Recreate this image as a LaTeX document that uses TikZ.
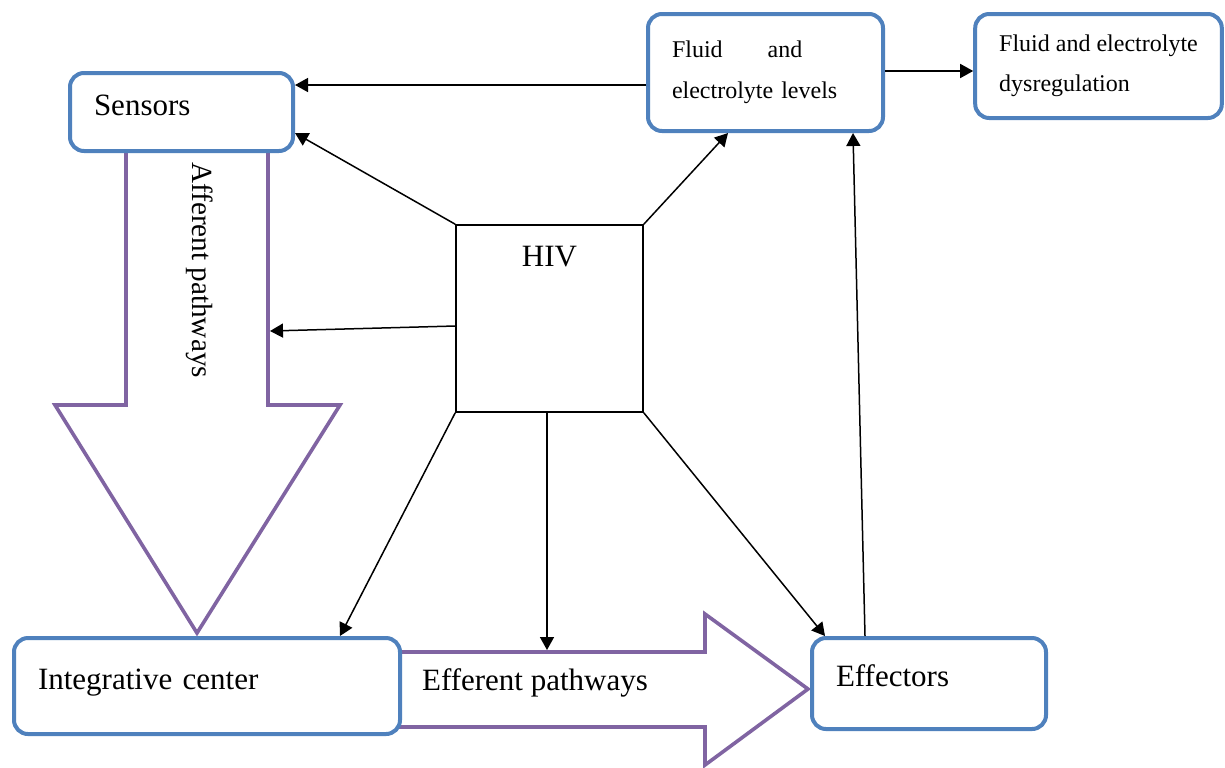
\documentclass[tikz,border=0pt]{standalone}
\usepackage{fontspec}
\setmainfont{Liberation Serif}
\usetikzlibrary{arrows.meta}
\definecolor{boxblue}{HTML}{4F81BD}
\definecolor{pathpurple}{HTML}{8064A2}

\begin{document}
\begin{tikzpicture}[x=0.5pt,y=-0.5pt]
      \useasboundingbox (0,0) rectangle (1225,767);

      % broad pathway arrows
      \begin{scope}[draw=pathpurple, fill=white, line width=1.8pt]
        \filldraw (126,140) -- (126,405) -- (55,405) -- (197,633) -- (340,405) -- (268,405) -- (268,140) -- cycle;
        \filldraw (390,652) -- (705,652) -- (705,614) -- (808,689) -- (705,765) -- (705,727) -- (390,727) -- cycle;
      \end{scope}

      \node[rotate=-90, font=\fontsize{14.6}{18}\selectfont] (afferent) at (200,270) {Afferent pathways};
      \node[font=\fontsize{15.5}{18}\selectfont] (efferent) at (535,683) {Efferent pathways};
      \coordinate (shaftR) at (270,331);
      \coordinate (shaftT) at (547,650);

      \begin{scope}[every node/.style={draw=boxblue, line width=2pt, rounded corners=7pt, fill=white,
          inner xsep=12pt, align=left, font=\fontsize{15.5}{18}\selectfont}]
        \node[text width=87.5pt, minimum height=39pt, text height=11pt, text depth=8pt] (sensors) at (181.5,112) {Sensors};
        \node[text width=169pt, minimum height=48pt, text height=11pt, text depth=8pt] (integ) at (207,686) {Integrative center};
        \node[text width=93pt, minimum height=45.5pt, text height=11pt, text depth=8pt] (effectors) at (929,683.5) {Effectors};
        \node[text width=93.5pt, minimum height=58.5pt, font=\fontsize{12}{20.5}\selectfont] (fluid) at (765.5,72.5)
          {Fluid\hspace{22.5pt}and\\electrolyte levels};
        \node[minimum width=121.5pt, minimum height=52pt, font=\fontsize{12}{20}\selectfont] (dysreg) at (1098.5,66)
          {Fluid and electrolyte\\dysregulation};
      \end{scope}

      \node[draw, line width=0.8pt, fill=white, minimum size=93.5pt, text height=11pt, text depth=63pt,
        font=\fontsize{15.5}{18}\selectfont] (hiv) at (549.5,318.5) {HIV};

      \begin{scope}[every edge/.style={draw, line width=0.75pt, -{Triangle[length=6.5pt,width=7pt]}}]
        \path (fluid.west |- 0,85) edge (sensors.east |- 0,85);
        \path (fluid.east |- 0,71) edge (dysreg.west |- 0,71);
        \path (hiv.north west) edge (sensors.east |- 0,133);
        \path (hiv.west |- 0,326) edge (shaftR);
        \path (hiv.north east) edge (728,0 |- fluid.south);
        \path (hiv.south west) edge (340,0 |- integ.north);
        \path (547,0 |- hiv.south) edge (shaftT);
        \path (hiv.south east) edge (825,0 |- effectors.north);
        \path (865,0 |- effectors.north) edge (853,0 |- fluid.south);
      \end{scope}

\end{tikzpicture}
\end{document}
